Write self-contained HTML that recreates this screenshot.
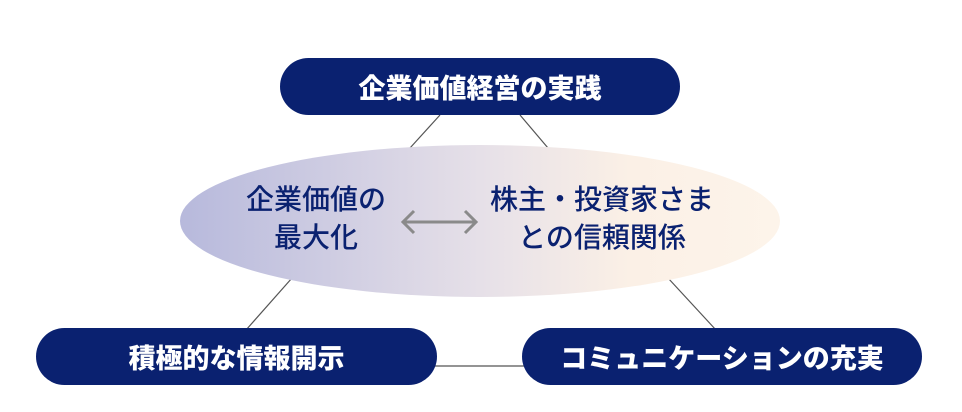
<!DOCTYPE html>
<html><head><meta charset="utf-8"><style>
body{margin:0;width:962px;height:412px;background:#fff;position:relative;overflow:hidden;font-family:"Liberation Sans","Noto Sans CJK JP",sans-serif}
.pill{position:absolute;background:#0a2170;color:#fff;border-radius:29px;height:57px;display:flex;align-items:center;justify-content:center;font-weight:900;font-size:27px;letter-spacing:0px}
.t{position:absolute;color:#0a2170;font-size:28px;line-height:38px;text-align:center;font-weight:500;white-space:nowrap}
</style></head><body>
<svg width="962" height="412" style="position:absolute;left:0;top:0">
<defs><linearGradient id="g" x1="0" x2="1" y1="0" y2="0">
<stop offset="0" stop-color="#b7b9dc"/><stop offset="0.5" stop-color="#e6e0e8"/><stop offset="0.75" stop-color="#fbf0e6"/><stop offset="1" stop-color="#fdf4ea"/></linearGradient></defs>
<g stroke="#555" stroke-width="1.2">
<line x1="440" y1="115" x2="410" y2="148"/>
<line x1="520" y1="115" x2="548" y2="148"/>
<line x1="292" y1="278" x2="246" y2="330"/>
<line x1="668" y1="278" x2="716" y2="330"/>
<line x1="435" y1="366" x2="525" y2="366"/>
</g>
<ellipse cx="480" cy="221" rx="300" ry="76" fill="url(#g)"/>
<g stroke="#8a8a8a" stroke-width="3" fill="none">
<line x1="403" y1="222" x2="476" y2="222"/>
<polyline points="414,211 403,222 414,233"/>
<polyline points="465,211 476,222 465,233"/>
</g>
</svg>
<div class="pill" style="left:280px;top:58px;width:400px">企業価値経営の実践</div>
<div class="pill" style="left:36px;top:328px;width:401px">積極的な情報開示</div>
<div class="pill" style="left:522px;top:328px;width:400px">コミュニケーションの充実</div>
<div class="t" style="left:216px;top:181px;width:200px">企業価値の<br>最大化</div>
<div class="t" style="left:482px;top:181px;width:240px">株主・投資家さま<br>との信頼関係</div>
</body></html>
